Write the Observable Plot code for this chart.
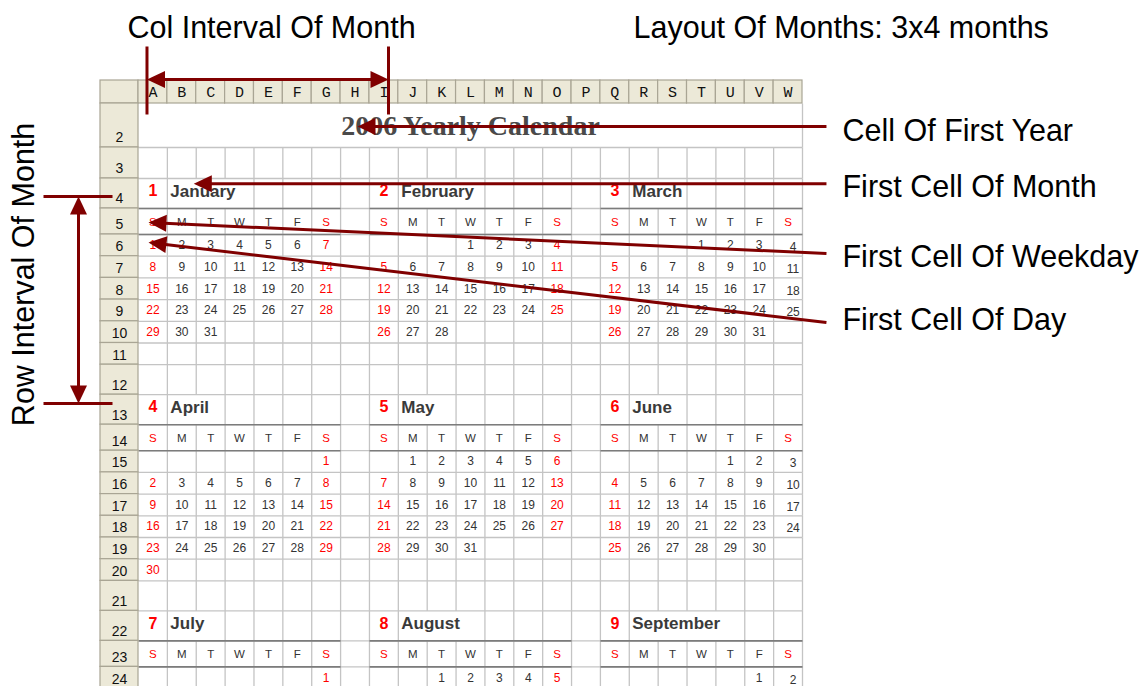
<!DOCTYPE html>
<html><head><meta charset="utf-8">
<script src="https://cdn.jsdelivr.net/npm/d3@7"></script>
<script src="https://cdn.jsdelivr.net/npm/@observablehq/plot@0.6"></script>
<style>
html,body{margin:0;padding:0;background:#fff;overflow:hidden;}
#chart svg{display:block;}
</style></head><body><div id="chart"></div>
<script>
// ---------------- data ----------------
const titleText = "2006 Yearly Calendar";
const monthNames = ["January","February","March","April","May","June","July","August","September"];
const monthNumbers = [1,2,3,4,5,6,7,8,9];
const weekdayLabels = ["S","M","T","W","T","F","S"];
const firstWeekday = [0,3,3,6,1,4,6,2,5];       // 0 = Sunday
const daysInMonth = [31,28,31,30,31,30,31,31,30];
const columnLetters = ["A","B","C","D","E","F","G","H","I","J","K","L","M","N","O","P","Q","R","S","T","U","V","W"];
const rowLabels = [2,3,4,5,6,7,8,9,10,11,12,13,14,15,16,17,18,19,20,21,22,23,24];
const topLabels = ["Col Interval Of Month","Layout Of Months: 3x4 months"];
const sideLabels = ["Cell Of First Year","First Cell Of Month","First Cell Of Weekday","First Cell Of Day"];
const rotatedLabel = "Row Interval Of Month";

// ---------------- layout (grid units: column A = 1, row n = n) ----------------
const monthColStep = 8, monthRowStep = 9, monthsPerLine = 3, firstMonthCol = 1, firstMonthRow = 4;
const lastRow = 24, lastCol = 23;
const xDomain = [0, 1, 24], xRange = [100, 138, 802];
const rowPx = [23, 44, 31];               // rows 1..3
const blockPx = [30, 26, 21.7, 21.7, 21.7, 21.7, 21.7, 21.7, 30];
for (let r = 4; r <= lastRow; r++) rowPx.push(blockPx[(r - 4) % 9]);
const yDomain = [0, 1], yRange = [0, 80];
rowPx.forEach((h, i) => { yDomain.push(i + 2); yRange.push(yRange[yRange.length - 1] + h); });
const X = d3.scaleLinear().domain(xDomain).range(xRange);
const Y = d3.scaleLinear().domain(yDomain).range(yRange);

const RED = "#ff0000", DARK = "#333", ANN = "#800000";
const annFont = 30.5;

// ---------------- derived cells ----------------
const monthCell = i => ({col: firstMonthCol + monthColStep * (i % monthsPerLine), row: firstMonthRow + monthRowStep * Math.floor(i / monthsPerLine)});
const months = monthNames.map((name, i) => ({name, num: monthNumbers[i], ...monthCell(i)})).filter(m => m.row <= lastRow);

const weekdayCells = [];
months.forEach(m => weekdayLabels.forEach((w, k) => { if (m.row + 1 <= lastRow) weekdayCells.push({label: w, col: m.col + k, row: m.row + 1, wd: k}); }));

const dayCells = [];
months.forEach((m, i) => {
  for (let d = 1; d <= daysInMonth[i]; d++) {
    const k = firstWeekday[i] + d - 1, wd = k % 7, wk = Math.floor(k / 7);
    const row = m.row + 2 + wk;
    if (row > lastRow) continue;
    dayCells.push({day: d, col: m.col + wd, row, wd});
  }
});
const dayColor = d => (d.wd === 0 || (d.wd === 6 && d.col !== lastCol)) ? RED : DARK;

// text overflow of month names hides grid lines
const ctx = document.createElement("canvas").getContext("2d");
ctx.font = "bold 17px 'Liberation Sans'";
const hidden = new Set();
months.forEach(m => {
  const s = X(m.col + 1) + 3, e = s + ctx.measureText(m.name).width + 2;
  for (let c = m.col + 2; c <= lastCol; c++) if (X(c) > s && X(c) < e) hidden.add(c + ":" + m.row);
});

// grid lines
const vSegs = [];
for (let c = 2; c <= 24; c++) {
  for (let r = 2; r <= lastRow; r++) {
    if (r === 2 && c !== 24) continue;
    if (hidden.has(c + ":" + r)) continue;
    vSegs.push({x: c, y1: r, y2: r + 1});
  }
}
const hSegs = [];
for (let r = 3; r <= lastRow + 1; r++) hSegs.push({y: r, x1: 1, x2: 24});
const thickSegs = [];
months.forEach(m => { [m.row + 1, m.row + 2].forEach(y => { if (y <= lastRow + 1) thickSegs.push({y, x1: m.col, x2: m.col + 7}); }); });

const headerCells = [{x1: 0, x2: 1, y1: 1, y2: 2}];
columnLetters.forEach((l, i) => headerCells.push({x1: i + 1, x2: i + 2, y1: 1, y2: 2}));
rowLabels.forEach(r => headerCells.push({x1: 0, x2: 1, y1: r, y2: r + 1}));

// ---------------- annotations (grid units) ----------------
const arrows = [
  {from: [24.83, 2.52], to: [8.586, 2.52], both: false},
  {from: [24.83, 4.177], to: [2.915, 4.177], both: false},
  {from: [24.83, 6.876], to: [1.346, 5.538], both: false},
  {from: [24.83, 10.055], to: [1.346, 6.369], both: false},
  {from: [1.294, 0.9875], to: [9.66, 0.9875], both: true},
  {from: [-0.579, 4.6], to: [-0.579, 13.293], both: true}
];
const plainLines = [
  {x1: 1.294, y1: 0.575, x2: 1.294, y2: 2.25},
  {x1: 9.66, y1: 0.575, x2: 9.66, y2: 2.25},
  {x1: -1.5, y1: 4.6, x2: 0.316, y2: 4.6},
  {x1: -1.5, y1: 13.293, x2: 0.316, y2: 13.293}
];
const colLabelPos = {x: 5.607, y: 0.3405};
const layoutLabelPos = {x: 18.146, y: 0.3405};
const sideLabelPos = [{x: 25.385, y: 2.641}, {x: 25.385, y: 4.307}, {x: 25.385, y: 7.069}, {x: 25.385, y: 9.972}];
const rotatedPos = {x: -2.0, y: 7.84};

const headLen = 18, headHalf = 8.5;
const headPolys = [], shafts = [];
function head(tip, tail, id) {
  const tx = X(tip[0]), ty = Y(tip[1]), sx = X(tail[0]), sy = Y(tail[1]);
  const L = Math.hypot(tx - sx, ty - sy), ux = (tx - sx) / L, uy = (ty - sy) / L;
  const bx = tx - ux * headLen, by = ty - uy * headLen;
  [[tx, ty], [bx - uy * headHalf, by + ux * headHalf], [bx + uy * headHalf, by - ux * headHalf]]
    .forEach(([px, py]) => headPolys.push({id, x: X.invert(px), y: Y.invert(py)}));
  return [X.invert(tx - ux * headLen * 0.6), Y.invert(ty - uy * headLen * 0.6)];
}
arrows.forEach((a, i) => {
  const end = head(a.to, a.from, "e" + i);
  const start = a.both ? head(a.from, a.to, "s" + i) : a.from;
  shafts.push({x1: start[0], y1: start[1], x2: end[0], y2: end[1]});
});
plainLines.forEach(l => shafts.push(l));

// ---------------- plot ----------------
const plot = Plot.plot({
  width: 1145, height: 686, margin: 0,
  x: {type: "linear", domain: xDomain, range: xRange, axis: null},
  y: {type: "linear", domain: yDomain, range: yRange, axis: null},
  style: {background: "#fff", fontFamily: "'Liberation Sans', Arial, sans-serif"},
  marks: [
    Plot.link(hSegs, {x1: "x1", x2: "x2", y1: "y", y2: "y", stroke: "#c4c4c4", strokeWidth: 1.3}),
    Plot.link(vSegs, {x1: "x", x2: "x", y1: "y1", y2: "y2", stroke: "#c4c4c4", strokeWidth: 1.3}),
    Plot.link(thickSegs, {x1: "x1", x2: "x2", y1: "y", y2: "y", stroke: "#7c7c7c", strokeWidth: 1.6}),
    Plot.rect(headerCells, {x1: "x1", x2: "x2", y1: "y1", y2: "y2", fill: "#ece9d8", stroke: "#a9a594", strokeWidth: 1.2}),
    Plot.text(columnLetters, {x: (d, i) => i + 1.5, y: () => 1.5, fontFamily: "'Liberation Mono', monospace", fontSize: 15, fill: "#111"}),
    Plot.text(rowLabels, {x: () => 0.5, y: d => d + 1, dy: -9.5, fontSize: 14, fill: "#111"}),
    Plot.text([titleText], {x: () => 12.5, y: () => 2.52, fontFamily: "'Liberation Serif', serif", fontWeight: "bold", fontSize: 28, fill: "#4a4a4a"}),
    Plot.text(months, {x: d => d.col + 0.5, y: d => d.row + 0.42, text: d => String(d.num), fontWeight: "bold", fontSize: 16, fill: RED}),
    Plot.text(months, {x: d => d.col + 1, y: d => d.row + 0.42, text: "name", dx: 3, textAnchor: "start", fontWeight: "bold", fontSize: 17, fill: "#3a3a3a"}),
    Plot.text(weekdayCells, {x: d => d.col + 0.5, y: d => d.row + 0.52, text: "label", fontSize: 11.5, fill: d => (d.wd === 0 || d.wd === 6) ? RED : DARK}),
    Plot.text(dayCells.filter(d => d.col !== lastCol), {x: d => d.col + 0.5, y: d => d.row + 0.5, text: d => String(d.day), fontSize: 12, fill: dayColor}),
    Plot.text(dayCells.filter(d => d.col === lastCol), {x: d => d.col + 0.5, y: d => d.row + 0.5, text: d => String(d.day), dx: 5, dy: 2, fontSize: 12, fill: DARK}),
    // annotations
    Plot.link(shafts, {x1: "x1", y1: "y1", x2: "x2", y2: "y2", stroke: ANN, strokeWidth: 3, strokeLinecap: "butt"}),
    Plot.line(headPolys, {x: "x", y: "y", z: "id", fill: ANN, stroke: "none"}),
    Plot.text([topLabels[0]], {x: () => colLabelPos.x, y: () => colLabelPos.y, textAnchor: "middle", fontSize: annFont, fill: "#000"}),
    Plot.text([topLabels[1]], {x: () => layoutLabelPos.x, y: () => layoutLabelPos.y, textAnchor: "start", fontSize: annFont, fill: "#000"}),
    Plot.text(sideLabels, {x: (d, i) => sideLabelPos[i].x, y: (d, i) => sideLabelPos[i].y, textAnchor: "start", fontSize: annFont, fill: "#000"}),
    Plot.text([rotatedLabel], {x: () => rotatedPos.x, y: () => rotatedPos.y, rotate: -90, fontSize: annFont, fill: "#000"})
  ]
});
document.getElementById("chart").appendChild(plot);
</script></body></html>
